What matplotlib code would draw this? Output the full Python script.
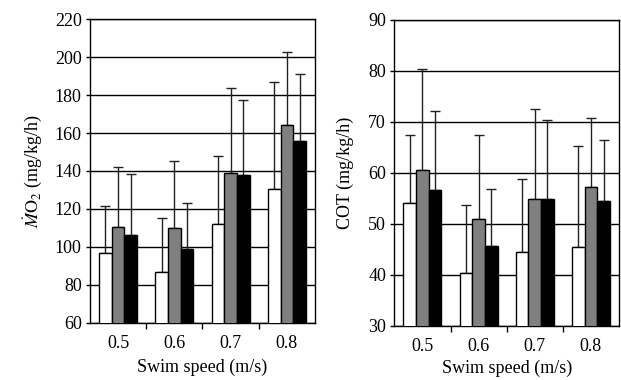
import numpy as np
import matplotlib.pyplot as plt

plt.rcParams['font.family'] = ['Liberation Serif', 'DejaVu Serif']
plt.rcParams['mathtext.fontset'] = 'stix'

# Data
speeds = ["0.5", "0.6", "0.7", "0.8"]

mo2_white = [97.0, 86.5, 111.9, 130.7]
mo2_white_err = [24.6, 28.7, 35.8, 56.3]
mo2_gray = [110.5, 109.7, 139.0, 164.0]
mo2_gray_err = [31.5, 35.7, 44.6, 39.0]
mo2_black = [106.2, 98.8, 137.8, 155.6]
mo2_black_err = [32.1, 24.2, 39.6, 35.7]

cot_white = [54.0, 40.3, 44.5, 45.5]
cot_white_err = [13.5, 13.3, 14.2, 19.7]
cot_gray = [60.5, 50.9, 54.8, 57.2]
cot_gray_err = [19.8, 16.6, 17.7, 13.5]
cot_black = [56.7, 45.7, 54.8, 54.4]
cot_black_err = [15.5, 11.2, 15.6, 12.1]

fig = plt.figure(figsize=(6.21, 3.80), dpi=100)
ax1 = fig.add_axes([0.1449, 0.1508, 0.3623, 0.7984])
ax2 = fig.add_axes([0.6350, 0.1429, 0.3618, 0.8045])

x = np.arange(len(speeds))
w = 0.225
fs = 13


def draw_panel(ax, series, ylim, yticks, ylabel, ypad, xpad):
    for k, (vals, errs, color) in enumerate(series):
        pos = x + (k - 1) * w
        ax.bar(pos, vals, width=w, color=color, edgecolor='black',
               linewidth=1.0, zorder=3)
        ax.errorbar(pos, vals, yerr=[np.zeros(len(errs)), errs], fmt='none',
                    ecolor='#222222', elinewidth=1.0, capsize=3.8,
                    capthick=1.0, zorder=2)
    ax.set_xlim(-0.5, 3.5)
    ax.set_ylim(*ylim)
    ax.set_yticks(yticks)
    ax.yaxis.grid(True, color='black', linewidth=1.0, zorder=0)
    ax.set_axisbelow(True)
    ax.set_xticks(x)
    ax.set_xticklabels(speeds)
    ax.set_xticks([0.5, 1.5, 2.5], minor=True)
    ax.tick_params(axis='x', which='major', length=0, pad=9, labelsize=fs)
    ax.tick_params(axis='x', which='minor', length=4, width=1.0,
                   direction='out')
    ax.tick_params(axis='y', length=3, width=1.0, direction='out', pad=3,
                   labelsize=fs)
    for sp in ax.spines.values():
        sp.set_linewidth(1.0)
    ax.set_xlabel("Swim speed (m/s)", fontsize=fs, labelpad=xpad)
    ax.set_ylabel(ylabel, fontsize=fs, labelpad=ypad)


draw_panel(ax1,
           [(mo2_white, mo2_white_err, 'white'),
            (mo2_gray, mo2_gray_err, '#808080'),
            (mo2_black, mo2_black_err, 'black')],
           (60, 220), range(60, 221, 20),
           r'$\dot{M}\mathrm{O}_2$ (mg/kg/h)', 7, 5)

draw_panel(ax2,
           [(cot_white, cot_white_err, 'white'),
            (cot_gray, cot_gray_err, '#808080'),
            (cot_black, cot_black_err, 'black')],
           (30, 90), range(30, 91, 10),
           'COT (mg/kg/h)', 10, 3)

fig.savefig('out.png', dpi=100)
